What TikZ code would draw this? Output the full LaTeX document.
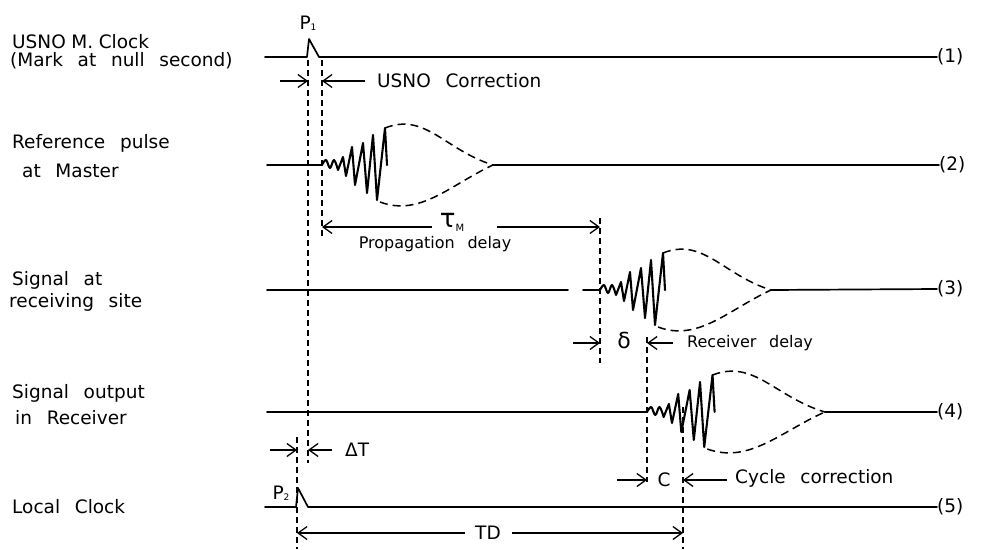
\documentclass[tikz,border=0pt]{standalone}
\usepackage{fontspec}
\setmainfont[WordSpace=2.5]{DejaVu Sans}
\usetikzlibrary{arrows.meta}
\tikzset{
  sig/.style={line width=1.7pt, line join=round, line cap=round},
  burststroke/.style={line width=2.1pt, line join=round, line cap=round},
  guide/.style={line width=1.5pt, dash pattern=on 6pt off 4pt},
  env/.style={line width=1.5pt, dash pattern=on 8pt off 5pt},
  dim/.style={line width=1.3pt, -{Straight Barb[length=9pt,width=13pt]}},
  lbl/.style={font=\fontsize{18.5}{18}\selectfont, inner sep=0pt},
  small/.style={font=\fontsize{16}{18}\selectfont, inner sep=0pt},
  burst/.pic={
    \draw[burststroke] plot[smooth, tension=0.6] coordinates {(0,0) (4,-5) (8,3) (12,-5) (16,5)}
      -- (21,-8) -- (24,11) -- (30,-18) -- (33,20) -- (41,-22) -- (45,28)
      -- (51,-30) -- (55,35) -- (63,-37) -- (65,0);
    \draw[env] (63,-37) .. controls (103,-53) and (123,-15) .. (171,0);
    \draw[env] (58,37) .. controls (98,52) and (128,20) .. (171,0);
  }
}
\begin{document}
\begin{tikzpicture}[x=1pt,y=-1pt]
\useasboundingbox (0,0) rectangle (981,549);
\fill[white] (0,0) rectangle (981,549);

% ---------- left labels ----------
\node[lbl, anchor=west, align=left] (l1) at (10,52)
  {\hspace{2pt}USNO\hspace{0.3em}M.\hspace{0.3em}Clock\\(Mark at null second)};
\node[lbl, anchor=west] (l2a) at (12,143) {Reference pulse};
\node[lbl, anchor=west] (l2b) at (22,171) {at Master};
\node[lbl, anchor=west] (l3a) at (12,280) {Signal at};
\node[lbl, anchor=west] (l3b) at (9,302) {receiving site};
\node[lbl, anchor=west] (l4a) at (12,393) {Signal output};
\node[lbl, anchor=west] (l4b) at (15,418) {in Receiver};
\node[lbl, anchor=west] (l5a) at (12,507) {Local Clock};

% ---------- right labels ----------
\node[lbl, anchor=west] (r1) at (937,57) {(1)};
\node[lbl, anchor=west] (r2) at (939,165) {(2)};
\node[lbl, anchor=west] (r3) at (937,289) {(3)};
\node[lbl, anchor=west] (r4) at (937,412) {(4)};
\node[lbl, anchor=west] (r5) at (937,507) {(5)};

% ---------- guide (dashed) lines ----------
\coordinate (gA1) at (308,60);  \coordinate (gA2) at (308,463);
\coordinate (gB1) at (322,60);  \coordinate (gB2) at (322,238);
\coordinate (gC1) at (600,218); \coordinate (gC2) at (600,363);
\coordinate (gD1) at (647,337); \coordinate (gD2) at (647,482);
\coordinate (gE1) at (683,407); \coordinate (gE2) at (683,549);
\coordinate (gF1) at (297,437); \coordinate (gF2) at (297,549);
\foreach \g in {A,B,C,D,E,F} \draw[guide] (g\g1) -- (g\g2);

% ---------- signal (1) ----------
\coordinate (s1a) at (265,57);
\draw[sig] (s1a) -- (307,57) -- (309,39) -- (319,57) -- (r1.west);
\node[lbl] (p1) at (308,23) {P\raisebox{-1pt}{\fontsize{9}{9}\selectfont 1}};

% ---------- signal (2) ----------
\coordinate (s2a) at (267,165); \coordinate (s2b) at (322,165); \coordinate (s2c) at (493,165);
\draw[sig] (s2a) -- (s2b);
\pic at (s2b) {burst};
\draw[sig] (s2c) -- (r2.west);

% ---------- signal (3) ----------
\coordinate (s3a) at (267,290); \coordinate (s3b) at (568,290);
\coordinate (s3c) at (583,290); \coordinate (s3d) at (600,290); \coordinate (s3e) at (771,290);
\draw[sig] (s3a) -- (s3b);
\draw[sig] (s3c) -- (s3d);
\pic at (s3d) {burst};
\draw[sig] (s3e) -- (r3.west);

% ---------- signal (4) ----------
\coordinate (s4a) at (267,412); \coordinate (s4b) at (647,412); \coordinate (s4c) at (825,412);
\draw[sig] (s4a) -- (s4b);
\pic[xscale=1.04] at (s4b) {burst};
\draw[sig] (s4c) -- (r4.west);

% ---------- signal (5) ----------
\coordinate (s5a) at (265,507);
\draw[sig] (s5a) -- (296,507) -- (298,488) -- (308,507) -- (r5.west);
\node[lbl] (p2) at (281,493) {P\raisebox{-1pt}{\fontsize{9}{9}\selectfont 2}};

% ---------- USNO correction ----------
\coordinate (uA) at (280,81); \coordinate (uB) at (365,81);
\draw[dim] (uA) -- (uA -| gA1);
\draw[dim] (uB) -- (uB -| gB1);
\node[lbl, anchor=west] (usno) at (377,81) {USNO Correction};

% ---------- propagation delay ----------
\coordinate (tL) at (432,227); \coordinate (tR) at (497,227);
\draw[dim] (tL) -- (tL -| gB1);
\draw[dim] (tR) -- (tR -| gC1);
\node[inner sep=0pt] (tau) at (452,222) {{\fontsize{26}{26}\selectfont τ}\raisebox{-4pt}{\fontsize{10}{10}\selectfont M}};
\node[small] (prop) at (435,244) {Propagation delay};

% ---------- receiver delay ----------
\coordinate (dA) at (573,343); \coordinate (dB) at (673,343);
\draw[dim] (dA) -- (dA -| gC1);
\draw[dim] (dB) -- (dB -| gD1);
\node[inner sep=0pt, font=\fontsize{22}{22}\selectfont] (delta) at (624,340) {δ};
\node[small, anchor=west] (rdel) at (687,343) {Receiver delay};

% ---------- Delta T ----------
\coordinate (eA) at (270,450); \coordinate (eB) at (332,450);
\draw[dim] (eA) -- (eA -| gF1);
\draw[dim] (eB) -- (eB -| gA1);
\node[lbl, anchor=west] (dT) at (345,450) {ΔT};

% ---------- cycle correction ----------
\coordinate (cA) at (617,480); \coordinate (cB) at (727,480);
\draw[dim] (cA) -- (cA -| gD1);
\draw[dim] (cB) -- (cB -| gE1);
\node[lbl] (cC) at (664,480) {C};
\node[lbl, anchor=west] (cyc) at (735,478) {Cycle correction};

% ---------- TD ----------
\coordinate (tdL) at (465,533); \coordinate (tdR) at (512,533);
\draw[dim] (tdL) -- (tdL -| gF1);
\draw[dim] (tdR) -- (tdR -| gE1);
\node[lbl] (td) at (488,533) {TD};
\end{tikzpicture}
\end{document}
